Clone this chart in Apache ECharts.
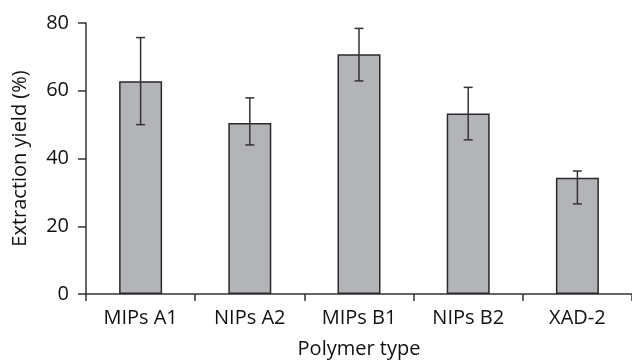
<!DOCTYPE html>
<html>
<head>
    <meta charset="utf-8">
    <title>Extraction yield</title>
    <script src="https://cdn.jsdelivr.net/npm/echarts@6/dist/echarts.min.js"></script>
</head>
<body style="margin:0">
    <div id="main" style="width:632px;height:364px;"></div>
    <script type="text/javascript">
        var categories = ['MIPs A1', 'NIPs A2', 'MIPs B1', 'NIPs B2', 'XAD-2'];
        var yieldValues = [62.8, 50.5, 70.8, 53.3, 34.3];
        var errLow = [50.0, 44.0, 62.9, 45.5, 26.6];
        var errHigh = [75.7, 57.9, 78.4, 61.0, 36.3];

        var myChart = echarts.init(document.getElementById('main'));

        var errData = categories.map(function (c, i) {
            return [i, errLow[i], errHigh[i]];
        });

        var font = 'Open Sans';
        var txt = '#111';

        option = {
            animation: false,
            grid: {left: 86, top: 23, width: 547, height: 274},
            xAxis: {
                type: 'category',
                data: categories,
                name: 'Polymer type',
                nameLocation: 'middle',
                nameGap: 45,
                nameTextStyle: {fontFamily: font, fontSize: 20, color: txt},
                axisLine: {lineStyle: {color: '#333', width: 1.5}},
                axisTick: {show: true, length: 7, lineStyle: {color: '#333', width: 1.5}},
                axisLabel: {fontFamily: font, fontSize: 20, color: txt, margin: 14}
            },
            yAxis: {
                type: 'value',
                min: 0,
                max: 80,
                interval: 20,
                name: 'Extraction yield (%)',
                nameLocation: 'middle',
                nameGap: 56,
                nameTextStyle: {fontFamily: font, fontSize: 20, color: txt},
                axisLine: {show: true, lineStyle: {color: '#333', width: 1.5}},
                axisTick: {show: true, length: 8, lineStyle: {color: '#333', width: 1.5}},
                axisLabel: {fontFamily: font, fontSize: 20, color: txt, margin: 17},
                splitLine: {show: false}
            },
            series: [
                {
                    type: 'bar',
                    data: yieldValues,
                    barWidth: 43,
                    itemStyle: {color: '#b3b4b8', borderColor: '#2a2a2a', borderWidth: 1.5}
                },
                {
                    type: 'custom',
                    data: errData,
                    z: 10,
                    renderItem: function (params, api) {
                        var lo = api.coord([api.value(0), api.value(1)]);
                        var hi = api.coord([api.value(0), api.value(2)]);
                        var half = 4.5;
                        var style = {stroke: '#333', lineWidth: 1.5};
                        return {
                            type: 'group',
                            children: [
                                {type: 'line', shape: {x1: hi[0], y1: hi[1], x2: lo[0], y2: lo[1]}, style: style},
                                {type: 'line', shape: {x1: hi[0] - half, y1: hi[1], x2: hi[0] + half, y2: hi[1]}, style: style},
                                {type: 'line', shape: {x1: lo[0] - half, y1: lo[1], x2: lo[0] + half, y2: lo[1]}, style: style}
                            ]
                        };
                    }
                }
            ]
        };

        myChart.setOption(option);
    </script>
</body>
</html>
